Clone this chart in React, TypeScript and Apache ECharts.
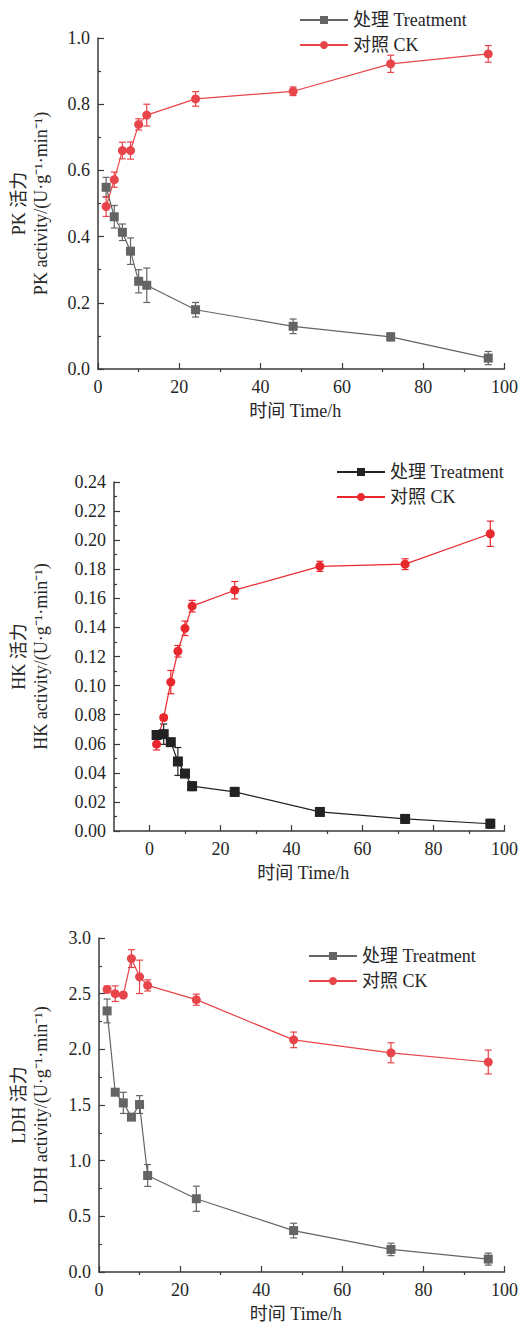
import React, { useEffect, useRef } from "react";
import * as echarts from "echarts";

const hours = [2, 4, 6, 8, 10, 12, 24, 48, 72, 96];

const pkTreatment = [0.549, 0.46, 0.413, 0.356, 0.265, 0.253, 0.179, 0.129, 0.097, 0.033];
const pkTreatmentErr = [0.03, 0.034, 0.025, 0.04, 0.035, 0.052, 0.022, 0.022, 0.012, 0.02];
const pkCK = [0.491, 0.572, 0.66, 0.66, 0.739, 0.767, 0.816, 0.839, 0.922, 0.952];
const pkCKErr = [0.03, 0.023, 0.025, 0.026, 0.017, 0.033, 0.022, 0.013, 0.026, 0.025];

const hkTreatment = [0.066, 0.0666, 0.0611, 0.0478, 0.0395, 0.0308, 0.0269, 0.0131, 0.0083, 0.005];
const hkTreatmentErr = [0.001, 0.007, 0.002, 0.0096, 0.001, 0.003, 0.003, 0.002, 0.003, 0.003];
const hkCK = [0.0597, 0.078, 0.1024, 0.1236, 0.1394, 0.1546, 0.1656, 0.182, 0.1835, 0.2044];
const hkCKErr = [0.004, 0.002, 0.008, 0.004, 0.005, 0.004, 0.006, 0.0035, 0.0037, 0.0087];

const ldhTreatment = [2.345, 1.615, 1.519, 1.391, 1.504, 0.867, 0.658, 0.372, 0.203, 0.116];
const ldhTreatmentErr = [0.107, 0.02, 0.095, 0.02, 0.08, 0.098, 0.113, 0.066, 0.056, 0.054];
const ldhCK = [2.538, 2.5, 2.488, 2.815, 2.651, 2.574, 2.446, 2.085, 1.969, 1.886];
const ldhCKErr = [0.03, 0.07, 0.02, 0.08, 0.15, 0.05, 0.05, 0.07, 0.09, 0.107];

const xMajorTicks = [0, 20, 40, 60, 80, 100];
const xMinorTicks = [10, 30, 50, 70, 90];

const legendNames: Record<string, string> = {
  t1: "处理 Treatment", c1: "对照 CK",
  t2: "处理 Treatment", c2: "对照 CK",
  t3: "处理 Treatment", c3: "对照 CK",
};

const FONT = "'Liberation Serif', 'Times New Roman', 'Noto Sans CJK SC', serif";
const AXIS_COLOR = "#3a3a3a";
const TEXT_COLOR = "#262626";

function errorBarSeries(name: string, xi: number, yi: number, vals: number[], errs: number[], color: string) {
  return {
    type: "custom",
    name: name + "_err",
    xAxisIndex: xi,
    yAxisIndex: yi,
    z: 1,
    silent: true,
    data: hours.map((h, i) => [h, vals[i], errs[i]]),
    renderItem: (params: any, api: any) => {
      const x = api.value(0);
      const y = api.value(1);
      const e = api.value(2);
      const top = api.coord([x, y + e]);
      const bot = api.coord([x, y - e]);
      const hw = 3.5;
      const st = { stroke: color, lineWidth: 1.2 };
      return {
        type: "group",
        children: [
          { type: "line", shape: { x1: top[0], y1: top[1], x2: bot[0], y2: bot[1] }, style: st },
          { type: "line", shape: { x1: top[0] - hw, y1: top[1], x2: top[0] + hw, y2: top[1] }, style: st },
          { type: "line", shape: { x1: bot[0] - hw, y1: bot[1], x2: bot[0] + hw, y2: bot[1] }, style: st },
        ],
      };
    },
  };
}

function lineSeries(name: string, xi: number, yi: number, vals: number[], color: string, symbol: string, size: number) {
  return {
    type: "line",
    name,
    xAxisIndex: xi,
    yAxisIndex: yi,
    z: 3,
    data: hours.map((h, i) => [h, vals[i]]),
    symbol,
    symbolSize: size,
    showSymbol: true,
    itemStyle: { color, opacity: 1 },
    lineStyle: { color, width: 1.2 },
  };
}

function xAxis(gridIndex: number, min: number, showName: boolean, minorOnly: boolean) {
  if (minorOnly) {
    return {
      type: "value", gridIndex, min, max: 100,
      axisLine: { show: false },
      axisTick: { show: true, inside: true, length: 3, customValues: xMinorTicks, lineStyle: { color: AXIS_COLOR, width: 1.2 } },
      axisLabel: { show: false },
      splitLine: { show: false },
    };
  }
  return {
    type: "value", gridIndex, min, max: 100,
    name: showName ? "时间 Time/h" : "",
    nameLocation: "middle",
    nameGap: 33,
    nameTextStyle: { fontFamily: FONT, fontSize: 18, color: TEXT_COLOR, padding: [0, 12, 0, 0] },
    axisLine: { show: true, onZero: false, lineStyle: { color: AXIS_COLOR, width: 1.5 } },
    axisTick: { show: true, inside: true, length: 6, customValues: xMajorTicks, lineStyle: { color: AXIS_COLOR, width: 1.2 } },
    axisLabel: { show: true, customValues: xMajorTicks, margin: 9, fontFamily: FONT, fontSize: 18, color: TEXT_COLOR },
    splitLine: { show: false },
  };
}

function yAxis(gridIndex: number, max: number, interval: number, digits: number, name: string, gap: number) {
  return {
    type: "value", gridIndex, min: 0, max, interval,
    name,
    nameLocation: "middle",
    nameRotate: 90,
    nameGap: gap,
    nameTextStyle: { fontFamily: FONT, fontSize: 18, color: TEXT_COLOR, lineHeight: 22 },
    axisLine: { show: true, onZero: false, lineStyle: { color: AXIS_COLOR, width: 1.5 } },
    axisTick: { show: true, inside: true, length: 6, lineStyle: { color: AXIS_COLOR, width: 1.2 } },
    minorTick: { show: true, splitNumber: 2, length: 3, lineStyle: { color: AXIS_COLOR, width: 1.2 } },
    axisLabel: { margin: 8, fontFamily: FONT, fontSize: 18, color: TEXT_COLOR, formatter: (v: number) => v.toFixed(digits) },
    splitLine: { show: false },
    minorSplitLine: { show: false },
  };
}

function legend(left: number, top: number, names: string[]) {
  return {
    orient: "vertical",
    left, top,
    itemWidth: 48,
    itemHeight: 10,
    itemGap: 7,
    data: names,
    formatter: (n: string) => legendNames[n],
    textStyle: { fontFamily: FONT, fontSize: 18, color: TEXT_COLOR },
    selectedMode: false,
  };
}

const RED1 = "#e8454b";
const GRAY = "#646464";
const BLACK = "#222222";
const RED2 = "#e8282c";

export default function App() {
  const ref = useRef<HTMLDivElement>(null);
  useEffect(() => {
    if (!ref.current) return;
    const chart = echarts.init(ref.current, undefined, { renderer: "svg" });
    chart.setOption({
      animation: false,
      backgroundColor: "#ffffff",
      grid: [
        { left: 97, width: 411, top: 38, height: 331 },
        { left: 97, width: 411, top: 482, height: 349 },
        { left: 94, width: 414, top: 938, height: 336 },
      ],
      xAxis: [
        xAxis(0, 0, true, false),
        xAxis(1, -10, true, false),
        xAxis(2, 0, true, false),
        xAxis(0, 0, false, true),
        xAxis(1, -10, false, true),
        xAxis(2, 0, false, true),
      ],
      yAxis: [
        yAxis(0, 1.0, 0.2, 1, "PK 活力\nPK activity/(U·g⁻¹·min⁻¹)", 46),
        yAxis(1, 0.24, 0.02, 2, "HK 活力\nHK activity/(U·g⁻¹·min⁻¹)", 62),
        yAxis(2, 3.0, 0.5, 1, "LDH 活力\nLDH activity/(U·g⁻¹·min⁻¹)", 47),
      ],
      legend: [
        legend(294, 6, ["t1", "c1"]),
        legend(331, 458, ["t2", "c2"]),
        legend(303, 942, ["t3", "c3"]),
      ],
      series: [
        errorBarSeries("t1", 0, 0, pkTreatment, pkTreatmentErr, GRAY),
        errorBarSeries("c1", 0, 0, pkCK, pkCKErr, RED1),
        lineSeries("t1", 0, 0, pkTreatment, GRAY, "rect", 9),
        lineSeries("c1", 0, 0, pkCK, RED1, "circle", 9),
        errorBarSeries("t2", 1, 1, hkTreatment, hkTreatmentErr, BLACK),
        errorBarSeries("c2", 1, 1, hkCK, hkCKErr, RED2),
        lineSeries("t2", 1, 1, hkTreatment, BLACK, "rect", 10),
        lineSeries("c2", 1, 1, hkCK, RED2, "circle", 9),
        errorBarSeries("t3", 2, 2, ldhTreatment, ldhTreatmentErr, GRAY),
        errorBarSeries("c3", 2, 2, ldhCK, ldhCKErr, RED1),
        lineSeries("t3", 2, 2, ldhTreatment, GRAY, "rect", 9),
        lineSeries("c3", 2, 2, ldhCK, RED1, "circle", 9),
      ],
    });
    return () => chart.dispose();
  }, []);
  return (
    <div
      ref={ref}
      style={{ position: "absolute", left: 0, top: 0, width: 521, height: 1324, background: "#fff" }}
    />
  );
}
